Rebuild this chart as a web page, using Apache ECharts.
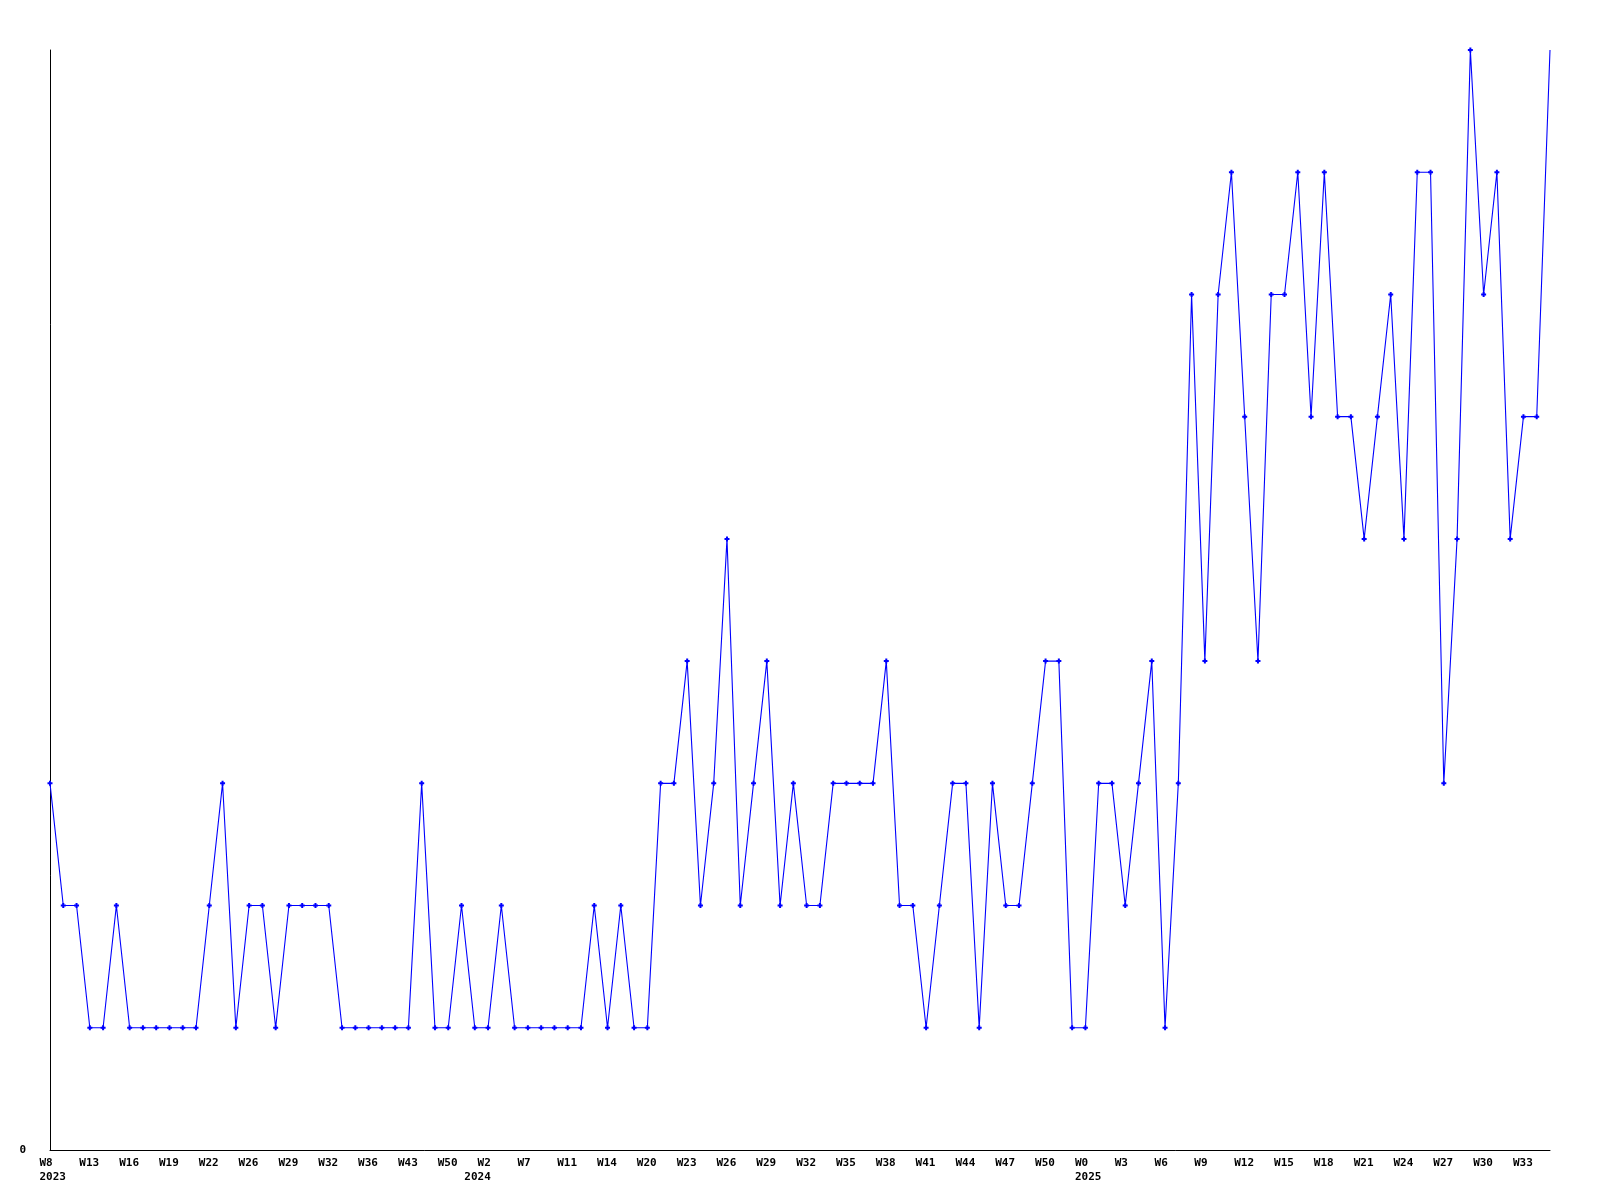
<!DOCTYPE html>
<html>
<head>
<meta charset="utf-8">
<style>
  html, body { margin: 0; padding: 0; background: #ffffff; }
  #chart { width: 1600px; height: 1200px; }
</style>
<script src="https://cdn.jsdelivr.net/npm/echarts@6/dist/echarts.min.js"></script>
</head>
<body>
<div id="chart"></div>
<script>
// Week labels for every data point (only every third one is drawn on the axis)
const weeks = [
  'W8','W11','W12','W13','W14','W15','W16','W17','W18','W19','W20','W21',
  'W22','W23','W25','W26','W27','W28','W29','W30','W31','W32','W33','W34',
  'W36','W38','W40','W43','W45','W47','W50','W51',
  'W1','W2','W4','W5','W7','W8','W9','W11','W12','W13','W14','W16','W18',
  'W20','W21','W22','W23','W24','W25','W26','W27','W28','W29','W30','W31',
  'W32','W33','W34','W35','W36','W37','W38','W39','W40','W41','W42','W43',
  'W44','W45','W46','W47','W48','W49','W50','W51','W52',
  'W0','W1','W2','W3','W4','W5','W6','W7','W8','W9','W10','W11','W12','W13',
  'W14','W15','W16','W17','W18','W19','W20','W21','W22','W23','W24','W25',
  'W26','W27','W28','W29','W30','W31','W32','W33','W34','W35'
];
// Year of each data point
const years = [].concat(
  Array(32).fill('2023'),
  Array(46).fill('2024'),
  Array(36).fill('2025')
);
// Values per week
const values = [
  3,2,2,1,1,2,1,1,1,1,1,1,
  2,3,1,2,2,1,2,2,2,2,1,1,
  1,1,1,1,3,1,1,2,
  1,1,2,1,1,1,1,1,1,2,1,2,1,
  1,3,3,4,2,3,5,2,3,4,2,3,
  2,2,3,3,3,3,4,2,2,1,2,3,
  3,1,3,2,2,3,4,4,1,
  1,3,3,2,3,4,1,3,7,4,7,8,6,4,
  7,7,8,6,8,6,6,5,6,7,5,8,
  8,3,5,9,7,8,5,6,6,9
];
const categories = weeks.map((w, i) => years[i] + ' ' + w);
const labelEvery = 3;

const chart = echarts.init(document.getElementById('chart'), null, { renderer: 'canvas' });
const fontFamily = '"DejaVu Sans Mono", "Liberation Mono", monospace';

chart.setOption({
  animation: false,
  backgroundColor: '#ffffff',
  grid: { left: 50, right: 50, top: 50, bottom: 50, containLabel: false },
  xAxis: {
    type: 'category',
    data: categories,
    boundaryGap: false,
    axisLine: { show: true, lineStyle: { color: '#000000', width: 1 } },
    axisTick: { show: false },
    splitLine: { show: false },
    axisLabel: {
      interval: 0,
      margin: 6,
      align: 'left',
      padding: [0, 0, 0, -10.5],
      color: '#000000',
      fontFamily: fontFamily,
      fontWeight: 'bold',
      fontSize: 11,
      lineHeight: 14,
      formatter: function (value, index) {
        const first = index === 0 || years[index] !== years[index - 1];
        const w = index % labelEvery === 0 ? weeks[index] : '';
        if (first) return w + '\n' + years[index];
        return w;
      }
    }
  },
  yAxis: {
    type: 'value',
    min: 0,
    max: 9,
    interval: 9,
    axisLine: { show: true, lineStyle: { color: '#000000', width: 1 } },
    axisTick: { show: false },
    splitLine: { show: false },
    axisLabel: {
      margin: 24,
      color: '#000000',
      fontFamily: fontFamily,
      fontWeight: 'bold',
      fontSize: 11,
      formatter: function (v) { return v === 0 ? '0' : ''; }
    }
  },
  series: [{
    type: 'line',
    data: values.map((v, i) => i === values.length - 1 ? { value: v, symbol: 'none' } : v),
    symbol: 'path://M1.5,0H3.5V1.5H5V3.5H3.5V5H1.5V3.5H0V1.5H1.5Z',
    symbolSize: 5,
    showSymbol: true,
    showAllSymbol: true,
    lineStyle: { color: '#0000ff', width: 1.1 },
    itemStyle: { color: '#0000ff', borderWidth: 0 },
    emphasis: { disabled: true }
  }]
});
</script>
</body>
</html>
